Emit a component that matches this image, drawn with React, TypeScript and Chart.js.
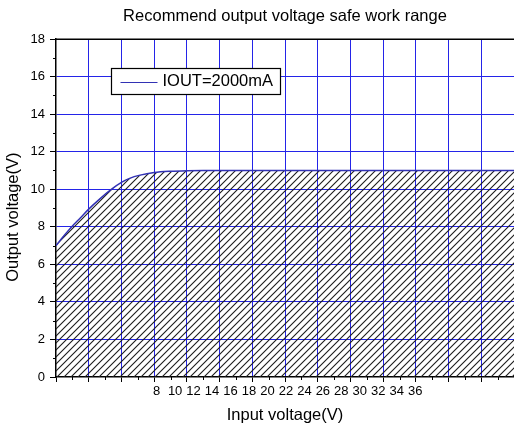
import React, { useEffect, useRef } from 'react';
import { Chart, registerables } from 'chart.js';

Chart.register(...registerables);

// ---- text ----
const TITLE = 'Recommend output voltage safe work range';
const SERIES_LABEL = 'IOUT=2000mA';
const X_TITLE = 'Input voltage(V)';
const Y_TITLE = 'Output voltage(V)    ';

// ---- data ----
// position of the curve along the major grid divisions of the x axis
const gridPos = [0, 0.25, 0.48, 0.75, 1.0, 1.35, 1.7, 2.0, 2.25, 2.57, 3.0, 3.5, 4.0, 4.5, 14];
// output voltage (V)
const outputV = [7.0, 7.53, 8.0, 8.48, 8.94, 9.5, 10.0, 10.36, 10.58, 10.75, 10.89, 10.96, 10.99, 11.0, 11.0];

// tick labels
const X_LABELS = [8, 10, 12, 14, 16, 18, 20, 22, 24, 26, 28, 30, 32, 34, 36];
const Y_TICKS = [0, 2, 4, 6, 8, 10, 12, 14, 16, 18];

// axis ranges
const X_GRID_MIN = 0;
const X_GRID_MAX = 14;
const X_LABEL_MIN = -2.9;
const X_LABEL_MAX = 46.7;
const Y_MIN = 0;
const Y_MAX = 18;

// ---- style ----
const FONT = 'Liberation Sans, Arial, Helvetica, sans-serif';
const GRID = '#2424e8';
const CURVE = '#3232b4';
const NONE = 'rgba(0,0,0,0)';

function makeHatch(): CanvasPattern | string {
  const s = 7;
  const c = document.createElement('canvas');
  c.width = s;
  c.height = s;
  const g = c.getContext('2d');
  if (!g) return '#ccc';
  g.strokeStyle = '#1c1c1c';
  g.lineWidth = 1.1;
  g.beginPath();
  g.moveTo(0, s);
  g.lineTo(s, 0);
  g.moveTo(-1, 1);
  g.lineTo(1, -1);
  g.moveTo(s - 1, s + 1);
  g.lineTo(s + 1, s - 1);
  g.stroke();
  return g.createPattern(c, 'repeat') || '#ccc';
}

const minorTicks = {
  id: 'minorTicks',
  afterDraw(chart: any) {
    const { ctx } = chart;
    const x = chart.scales.x;
    const y = chart.scales.y;
    ctx.save();
    ctx.strokeStyle = '#000';
    ctx.lineWidth = 1;
    ctx.beginPath();
    const yt = y.ticks;
    for (let i = 0; i < yt.length - 1; i++) {
      const v = (yt[i].value + yt[i + 1].value) / 2;
      const py = Math.round(y.getPixelForValue(v)) + 0.5;
      ctx.moveTo(y.right - 3, py);
      ctx.lineTo(y.right, py);
    }
    const xt = x.ticks;
    for (let i = 0; i < xt.length - 1; i++) {
      const v = (xt[i].value + xt[i + 1].value) / 2;
      const px = Math.round(x.getPixelForValue(v)) + 0.5;
      ctx.moveTo(px, x.top);
      ctx.lineTo(px, x.top + 3);
    }
    ctx.stroke();
    // top frame
    const ca = chart.chartArea;
    ctx.lineWidth = 1.5;
    ctx.beginPath();
    ctx.moveTo(ca.left, Math.round(ca.top) + 0.25);
    ctx.lineTo(ca.right, Math.round(ca.top) + 0.25);
    ctx.stroke();
    ctx.restore();
  },
};

const boxLegend = {
  id: 'boxLegend',
  afterDraw(chart: any) {
    const { ctx, chartArea } = chart;
    const ds = chart.data.datasets[0];
    const left = Math.round(chartArea.left + 55) + 0.5;
    const top = Math.round(chartArea.top + 29) + 0.5;
    const w = 169;
    const h = 26;
    ctx.save();
    ctx.fillStyle = '#fff';
    ctx.fillRect(left, top, w, h);
    ctx.strokeStyle = '#000';
    ctx.lineWidth = 1.2;
    ctx.strokeRect(left, top, w, h);
    const cy = top + h / 2;
    ctx.strokeStyle = ds.borderColor;
    ctx.lineWidth = 1;
    ctx.beginPath();
    ctx.moveTo(left + 9, Math.round(cy) + 0.5);
    ctx.lineTo(left + 46, Math.round(cy) + 0.5);
    ctx.stroke();
    ctx.fillStyle = '#000';
    ctx.font = `16.5px ${FONT}`;
    ctx.textBaseline = 'middle';
    ctx.textAlign = 'left';
    ctx.fillText(ds.label, left + 51, cy);
    ctx.restore();
  },
};

export default function App() {
  const ref = useRef<HTMLCanvasElement | null>(null);

  useEffect(() => {
    if (!ref.current) return;
    const hatch = makeHatch();
    const points = gridPos.map((x, i) => ({ x, y: outputV[i] }));
    const chart = new Chart(ref.current, {
      type: 'line',
      data: {
        datasets: [
          {
            label: SERIES_LABEL,
            data: points,
            xAxisID: 'x',
            yAxisID: 'y',
            borderColor: CURVE,
            borderWidth: 1.5,
            pointRadius: 0,
            fill: 'origin',
            backgroundColor: hatch as any,
            cubicInterpolationMode: 'monotone',
          },
        ],
      },
      options: {
        animation: false,
        responsive: false,
        devicePixelRatio: 1,
        layout: { padding: 0 },
        plugins: {
          legend: { display: false },
          tooltip: { enabled: false },
          title: {
            display: true,
            text: TITLE,
            fullSize: false,
            color: '#000',
            font: { family: FONT, size: 16.5, weight: 'normal' },
            padding: { top: 6.4, bottom: 12.8 },
          },
        },
        scales: {
          x: {
            type: 'linear',
            position: 'bottom',
            weight: 0,
            min: X_GRID_MIN,
            max: X_GRID_MAX,
            ticks: { stepSize: 1, display: false },
            grid: {
              color: (c: any) =>
                c.tick && (c.tick.value === X_GRID_MIN || c.tick.value === X_GRID_MAX) ? NONE : GRID,
              tickColor: '#000',
              tickLength: 5,
              lineWidth: 1,
            },
            border: { display: true, color: '#000', width: 1.5 },
            afterFit: (s: any) => {
              s.height = 5;
            },
          },
          xv: {
            type: 'linear',
            position: 'bottom',
            weight: 1,
            min: X_LABEL_MIN,
            max: X_LABEL_MAX,
            afterBuildTicks: (s: any) => {
              s.ticks = X_LABELS.map((v) => ({ value: v }));
            },
            ticks: {
              autoSkip: false,
              maxRotation: 0,
              color: '#000',
              font: { family: FONT, size: 13 },
              padding: 2,
            },
            grid: { display: false, drawTicks: false, tickLength: 0 },
            border: { display: false },
            title: {
              display: true,
              text: X_TITLE,
              color: '#000',
              font: { family: FONT, size: 16.5 },
              padding: { top: 0, bottom: 5 },
            },
            afterFit: (s: any) => {
              s.height = 48;
            },
          },
          y: {
            type: 'linear',
            position: 'left',
            min: Y_MIN,
            max: Y_MAX,
            afterBuildTicks: (s: any) => {
              s.ticks = Y_TICKS.map((v) => ({ value: v }));
            },
            ticks: {
              color: '#000',
              font: { family: FONT, size: 13 },
              padding: 5,
            },
            grid: {
              color: (c: any) =>
                c.tick && (c.tick.value === Y_MIN || c.tick.value === Y_MAX) ? NONE : GRID,
              tickColor: '#000',
              tickLength: 6,
              lineWidth: 1,
            },
            border: { display: true, color: '#000', width: 1.5 },
            title: {
              display: true,
              text: Y_TITLE,
              color: '#000',
              font: { family: FONT, size: 16.5 },
              padding: { top: 4, bottom: 0 },
            },
            afterFit: (s: any) => {
              s.width = 56;
            },
          },
        },
      },
      plugins: [minorTicks, boxLegend],
    });
    return () => chart.destroy();
  }, []);

  return (
    <div style={{ position: 'fixed', left: 0, top: 0, width: 514, height: 430, background: '#fff' }}>
      <canvas ref={ref} width={514} height={430} style={{ display: 'block' }} />
    </div>
  );
}
